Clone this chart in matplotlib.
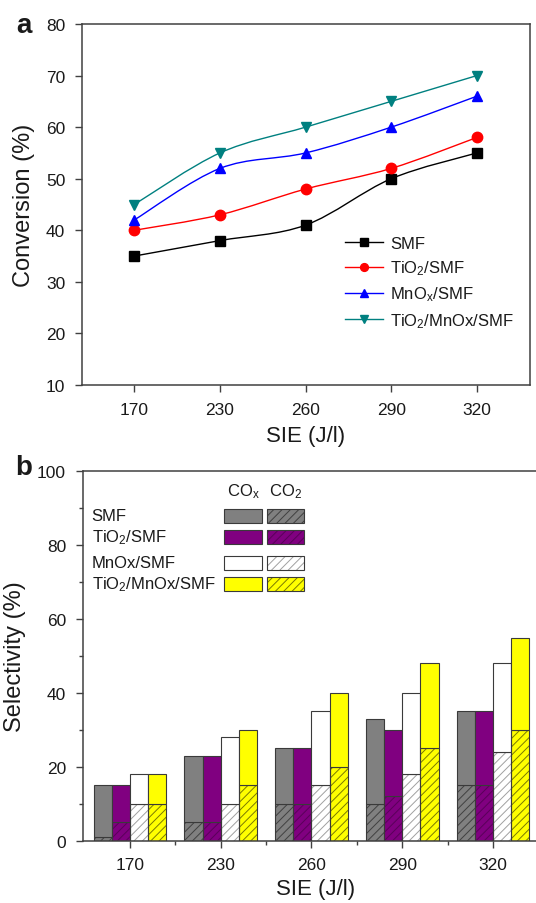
import numpy as np
import matplotlib
matplotlib.use("Agg")
import matplotlib.pyplot as plt
from matplotlib.patches import PathPatch, Rectangle
from matplotlib.path import Path
from matplotlib.ticker import MultipleLocator, FixedLocator

plt.rcParams["font.family"] = ["Liberation Sans", "DejaVu Sans"]
plt.rcParams["mathtext.fontset"] = "custom"
plt.rcParams["mathtext.rm"] = "Liberation Sans"
plt.rcParams["mathtext.it"] = "Liberation Sans"
plt.rcParams["hatch.linewidth"] = 0.7

# ---- data -------------------------------------------------------------
SIE = ["170", "230", "260", "290", "320"]

# panel a: conversion (%)
conv_smf = [35, 38, 41, 50, 55]
conv_tio2 = [40, 43, 48, 52, 58]
conv_mnox = [42, 52, 55, 60, 66]
conv_tio2_mnox = [45, 55, 60, 65, 70]

# panel b: selectivity (%) -- COx total and CO2 part
cox_smf = [15, 23, 25, 33, 35]
co2_smf = [1, 5, 10, 10, 15]
cox_tio2 = [15, 23, 25, 30, 35]
co2_tio2 = [5, 5, 10, 12, 15]
cox_mnox = [18, 28, 35, 40, 48]
co2_mnox = [10, 10, 15, 18, 24]
cox_tio2_mnox = [18, 30, 40, 48, 55]
co2_tio2_mnox = [10, 15, 20, 25, 30]

LABELS = ["SMF", r"TiO$_2$/SMF", r"MnO$_x$/SMF", r"TiO$_2$/MnOx/SMF"]
LABELS_B = ["SMF", r"TiO$_2$/SMF", "MnOx/SMF", r"TiO$_2$/MnOx/SMF"]

LINE_COLORS = ["#000000", "#ff0000", "#0000ff", "#008080"]
MARKERS = ["s", "o", "^", "v"]

FACE = ["#808080", "#800080", "#ffffff", "#ffff00"]
HATCH_COL = ["#404040", "#5a005a", "#a0a0a0", "#7a7a00"]
EDGE = "#3a3a3a"
AX_COL = "#404040"
TXT = "#1a1a1a"


def smooth_path(xs, ys):
    """Catmull-Rom style cubic bezier through the points."""
    pts = np.column_stack([xs, ys]).astype(float)
    ext = np.vstack([pts[0], pts, pts[-1]])
    verts, codes = [pts[0]], [Path.MOVETO]
    for i in range(len(pts) - 1):
        p0, p1, p2, p3 = ext[i], ext[i + 1], ext[i + 2], ext[i + 3]
        verts += [p1 + (p2 - p0) / 6, p2 - (p3 - p1) / 6, p2]
        codes += [Path.CURVE4] * 3
    return Path(verts, codes)


def style_axes(ax):
    for s in ax.spines.values():
        s.set_color(AX_COL)
        s.set_linewidth(1.1)
    ax.tick_params(which="major", direction="out", length=5, width=1.0,
                   color=AX_COL, labelsize=12.5, labelcolor=TXT, pad=7)
    ax.tick_params(which="minor", direction="out", length=3, width=1.0,
                   color=AX_COL)


W, H = 536, 904
fig = plt.figure(figsize=(W / 100, H / 100), dpi=100)

# ---- panel a ----------------------------------------------------------
ax1 = fig.add_axes([82 / W, 1 - 386 / H, 448 / W, 361 / H])
x = np.arange(len(SIE))
series = [conv_smf, conv_tio2, conv_mnox, conv_tio2_mnox]
handles = []
for ys, col, mk, lab in zip(series, LINE_COLORS, MARKERS, LABELS):
    ax1.add_patch(PathPatch(smooth_path(x, ys), fill=False, edgecolor=col,
                            lw=1.0, zorder=2))
    ax1.plot(x, ys, ls="none", marker=mk, color=col, ms=7.5, zorder=3)
    handles.append(plt.Line2D([], [], color=col, lw=1.0, marker=mk, ms=7.5,
                              label=lab))
ax1.set_xlim(-0.61, 4.62)
ax1.set_ylim(10, 80)
ax1.set_xticks(x)
ax1.set_xticklabels(SIE)
ax1.yaxis.set_major_locator(MultipleLocator(10))
style_axes(ax1)
ax1.set_xlabel("SIE (J/l)", fontsize=16, color=TXT, labelpad=6)
ax1.set_ylabel("Conversion (%)", fontsize=17, color=TXT, labelpad=8)
ax1.legend(handles=handles, loc="upper left",
           bbox_to_anchor=((345 - 82) / 448, (386 - 237) / 361),
           frameon=False, fontsize=12, borderpad=0, borderaxespad=0,
           handlelength=2.3, handletextpad=0.4, labelspacing=0.45,
           markerscale=0.75, labelcolor=TXT)
fig.text(16 / W, 1 - 33 / H, "a", fontsize=20, weight="bold", color=TXT)

# ---- panel b ----------------------------------------------------------
ax2 = fig.add_axes([82.7 / W, 1 - 841.7 / H, 464.8 / W, 369.4 / H])
cox = [cox_smf, cox_tio2, cox_mnox, cox_tio2_mnox]
co2 = [co2_smf, co2_tio2, co2_mnox, co2_tio2_mnox]
bw = 0.2
offsets = [-0.3, -0.1, 0.1, 0.3]
for k in range(4):
    xs = x + offsets[k]
    top = np.array(cox[k]) - np.array(co2[k])
    ax2.bar(xs, co2[k], bw, color=FACE[k], edgecolor=HATCH_COL[k], lw=0,
            hatch="////", zorder=2)
    ax2.bar(xs, co2[k], bw, fill=False, edgecolor=EDGE, lw=0.8, zorder=3)
    ax2.bar(xs, top, bw, bottom=co2[k], color=FACE[k], edgecolor=EDGE,
            lw=0.8, zorder=3)
ax2.set_xlim(-0.52, 4.6)
ax2.set_ylim(0, 100)
ax2.set_xticks(x)
ax2.set_xticklabels(SIE)
ax2.xaxis.set_minor_locator(FixedLocator(x[:-1] + 0.5))
ax2.yaxis.set_major_locator(MultipleLocator(20))
ax2.yaxis.set_minor_locator(MultipleLocator(10))
style_axes(ax2)
ax2.set_xlabel("SIE (J/l)", fontsize=16, color=TXT, labelpad=4)
ax2.set_ylabel("Selectivity (%)", fontsize=17, color=TXT, labelpad=8)
fig.text(15 / W, 1 - 475 / H, "b", fontsize=20, weight="bold", color=TXT)

# legend table inside panel b (axes fraction)
row_y = [0.879, 0.822, 0.752, 0.695]
box_h = 0.038
col_x = [0.3047, 0.396]
box_w = 0.081
for k in range(4):
    ax2.text(0.0194, row_y[k], LABELS_B[k], transform=ax2.transAxes,
             fontsize=12, color=TXT, ha="left", va="center")
    ax2.add_patch(Rectangle((col_x[0], row_y[k] - box_h / 2), box_w, box_h,
                            transform=ax2.transAxes, facecolor=FACE[k],
                            edgecolor=EDGE, lw=0.8, zorder=4))
    ax2.add_patch(Rectangle((col_x[1], row_y[k] - box_h / 2), box_w, box_h,
                            transform=ax2.transAxes, facecolor=FACE[k],
                            edgecolor=HATCH_COL[k], lw=0, hatch="////",
                            zorder=4))
    ax2.add_patch(Rectangle((col_x[1], row_y[k] - box_h / 2), box_w, box_h,
                            transform=ax2.transAxes, fill=False,
                            edgecolor=EDGE, lw=0.8, zorder=5))
ax2.text(col_x[0] + box_w / 2, 0.9475, r"CO$_x$", transform=ax2.transAxes,
         fontsize=12, color=TXT, ha="center", va="center")
ax2.text(col_x[1] + box_w / 2, 0.9475, r"CO$_2$", transform=ax2.transAxes,
         fontsize=12, color=TXT, ha="center", va="center")

fig.savefig("out.png", dpi=100)
